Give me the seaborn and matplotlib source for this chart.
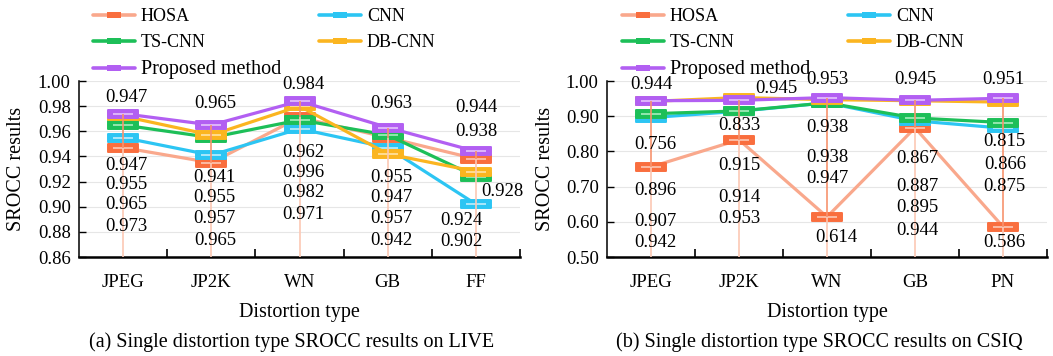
import numpy as np
import pandas as pd
import matplotlib
matplotlib.use("Agg")
import matplotlib.pyplot as plt
from matplotlib.path import Path
from matplotlib.lines import Line2D
import seaborn as sns

sns.set_theme(style="white")
plt.rcParams['font.family'] = ['Liberation Serif', 'DejaVu Serif']
for k in ['text.color', 'axes.labelcolor', 'xtick.color', 'ytick.color']:
    plt.rcParams[k] = 'black'

# --- dados ---
METHODS = ['HOSA', 'CNN', 'TS-CNN', 'DB-CNN', 'Proposed method']

live_types = ['JPEG', 'JP2K', 'WN', 'GB', 'FF']
live_hosa = [0.947, 0.935, 0.971, 0.955, 0.938]
live_cnn = [0.955, 0.941, 0.962, 0.947, 0.902]
live_tscnn = [0.965, 0.955, 0.969, 0.957, 0.924]
live_dbcnn = [0.972, 0.957, 0.980, 0.942, 0.928]
live_prop = [0.974, 0.965, 0.984, 0.963, 0.944]

csiq_types = ['JPEG', 'JP2K', 'WN', 'GB', 'PN']
csiq_hosa = [0.756, 0.833, 0.614, 0.867, 0.586]
csiq_cnn = [0.896, 0.914, 0.938, 0.887, 0.866]
csiq_tscnn = [0.907, 0.915, 0.938, 0.895, 0.882]
csiq_dbcnn = [0.942, 0.953, 0.947, 0.944, 0.940]
csiq_prop = [0.944, 0.945, 0.953, 0.945, 0.951]

# rotulos de dados (como no original)
live_top = ['0.947', '0.965', '0.984', '0.963', '0.944']
live_stack = [['0.947', '0.955', '0.965', '0.973'],
              ['0.941', '0.955', '0.957', '0.965'],
              ['0.962', '0.996', '0.982', '0.971'],
              ['0.955', '0.947', '0.957', '0.942'],
              ['0.938', '0.928', '0.924', '0.902']]
csiq_top = ['0.944', '0.945', '0.953', '0.945', '0.951']
csiq_stack = [['0.756', '0.896', '0.907', '0.942'],
              ['0.833', '0.915', '0.914', '0.953'],
              ['0.938', '0.938', '0.947', '0.614'],
              ['0.867', '0.887', '0.895', '0.944'],
              ['0.815', '0.866', '0.875', '0.586']]

# --- layout dos rotulos (posicao do texto) ---
LIVE_TOP_POS = [(0.04, 0.987), (0.04, 0.982), (0.04, 0.997), (0.04, 0.982), (0.0, 0.979)]
LIVE_STACK_POS = [[(0.04, 0.933), (0.04, 0.918), (0.04, 0.902), (0.04, 0.884)],
                  [(0.04, 0.923), (0.04, 0.907), (0.04, 0.891), (0.04, 0.873)],
                  [(0.04, 0.943), (0.04, 0.927), (0.04, 0.911), (0.04, 0.894)],
                  [(0.04, 0.923), (0.04, 0.907), (0.04, 0.891), (0.04, 0.873)],
                  [(0.0, 0.960), (0.30, 0.912), (-0.17, 0.889), (-0.17, 0.872)]]
CSIQ_TOP_POS = [(0.0, 0.989), (0.43, 0.980), (0.0, 1.003), (0.0, 1.003), (0.0, 1.003)]
CSIQ_STACK_POS = [[(0.05, 0.821), (0.05, 0.688), (0.05, 0.600), (0.05, 0.540)],
                  [(0.0, 0.875), (0.0, 0.759), (0.0, 0.670), (0.0, 0.608)],
                  [(0.0, 0.869), (0.0, 0.784), (0.0, 0.722), (0.11, 0.554)],
                  [(0.03, 0.781), (0.03, 0.699), (0.03, 0.642), (0.03, 0.574)],
                  [(0.02, 0.827), (0.02, 0.764), (0.02, 0.699), (0.02, 0.540)]]

LINE_COLORS = ['#f9a88c', '#2cc5f3', '#1dbf58', '#fbb520', '#b25ff2']
MARK_COLORS = ['#f96e3e', '#2cc5f3', '#1dbf58', '#fbb520', '#b25ff2']
STRIPE_COLORS = ['#fbb8a0', '#a6e6fa', '#8fe5ac', '#fedb8e', '#dcb3fa']

FS = 13.5
FS_LAB = 14.5
FS_LEG = 13
W, H = 1053, 356


def rect_path(h):
    verts = [(-1, -h), (1, -h), (1, h), (-1, h), (-1, -h)]
    codes = [Path.MOVETO, Path.LINETO, Path.LINETO, Path.LINETO, Path.CLOSEPOLY]
    return Path(verts, codes)


MARK = rect_path(0.27)
STRIPE = rect_path(0.09)
LEG_MARK = rect_path(0.4)


def painel(ax, tipos, series, ylim, yticks, top_txt, stack_txt, top_pos, stack_pos, legx, legenda):
    df = pd.DataFrame({
        'pos': np.tile(np.arange(len(tipos)), len(METHODS)),
        'method': np.repeat(METHODS, len(tipos)),
        'srocc': np.concatenate(series),
    })
    for i, m in enumerate(METHODS):
        sub = df[df['method'] == m]
        sns.lineplot(data=sub, x='pos', y='srocc', color=LINE_COLORS[i], linewidth=2.3,
                     ax=ax, zorder=3 + 2 * i, legend=False)
        ax.plot(sub['pos'], sub['srocc'], ls='none', marker=MARK, ms=22,
                mfc=MARK_COLORS[i], mec=MARK_COLORS[i], mew=1.4, zorder=4 + 2 * i)
        ax.plot(sub['pos'], sub['srocc'], ls='none', marker=STRIPE, ms=15,
                mfc=STRIPE_COLORS[i], mew=0, zorder=4.5 + 2 * i)

    pos = np.arange(len(tipos))
    hosa = np.array(series[0])
    prop = np.array(series[-1])
    ax.vlines(pos, hosa, prop, color='#f7936e', lw=1.2, zorder=20)
    ax.vlines(pos, ylim[0], hosa, color='#fcc8b4', lw=1.2, zorder=20)

    for j in range(len(tipos)):
        dx, y = top_pos[j]
        ax.text(j + dx, y, top_txt[j], ha='center', va='center', fontsize=FS,
                zorder=30, clip_on=False)
        for t, (dx, y) in zip(stack_txt[j], stack_pos[j]):
            ax.text(j + dx, y, t, ha='center', va='center', fontsize=FS,
                    zorder=30, clip_on=False)

    ax.set_xlim(-0.5, len(tipos) - 0.5)
    ax.set_ylim(*ylim)
    ax.set_yticks(yticks)
    ax.set_yticklabels([f'{v:.2f}' for v in yticks])
    ax.set_xticks(pos)
    ax.set_xticklabels(tipos)
    ax.set_xticks(np.arange(0.5, len(tipos), 1), minor=True)
    ax.tick_params(axis='x', which='major', length=0, pad=12, labelsize=FS)
    ax.tick_params(axis='x', which='minor', direction='in', length=6, width=1.2, bottom=True)
    ax.tick_params(axis='y', direction='in', length=5, width=1, left=True, pad=6, labelsize=FS)

    ax.yaxis.grid(True, color='#e6e6e6', lw=0.8)
    ax.set_axisbelow(True)
    for s in ['top', 'right']:
        ax.spines[s].set_visible(False)
    ax.spines['left'].set_color('black')
    ax.spines['left'].set_linewidth(1.1)
    ax.spines['bottom'].set_color('black')
    ax.spines['bottom'].set_linewidth(1.8)

    ax.set_xlabel('Distortion type', fontsize=FS_LAB)
    ax.xaxis.set_label_coords(0.5, -(313 - 257) / 176)
    ax.xaxis.label.set_va('center')
    ax.set_ylabel('SROCC results', fontsize=FS_LAB)
    ax.yaxis.set_label_coords(-62 / 441, 0.5)
    ax.yaxis.label.set_va('center')
    ax.text(0.483, -(342 - 257) / 176, legenda, transform=ax.transAxes,
            ha='center', va='center', fontsize=FS_LAB)

    handles = [Line2D([0], [0], color=LINE_COLORS[i], lw=2.6, marker=LEG_MARK, ms=10,
                      mfc=MARK_COLORS[i], mec=MARK_COLORS[i], mew=0) for i in range(5)]
    ordem = [0, 2, 4, 1, 3]
    leg = ax.legend([handles[k] for k in ordem], [METHODS[k] for k in ordem], ncol=2,
                    loc='upper left', bbox_to_anchor=(legx / W, 1 - 8 / H),
                    bbox_transform=ax.figure.transFigure, frameon=False,
                    handlelength=2.3, handletextpad=0.35, columnspacing=2.1,
                    labelspacing=0.5, borderpad=0, borderaxespad=0, fontsize=FS_LEG)
    for t in leg.get_texts():
        if t.get_text() == 'Proposed method':
            t.set_fontsize(14.5)


fig = plt.figure(figsize=(W / 100, H / 100), dpi=100)
ax_a = fig.add_axes([79 / W, (H - 257) / H, 441 / W, 176 / H])
ax_b = fig.add_axes([607 / W, (H - 257) / H, 440 / W, 176 / H])

painel(ax_a, live_types, [live_hosa, live_cnn, live_tscnn, live_dbcnn, live_prop],
       (0.86, 1.00), np.round(np.arange(0.86, 1.001, 0.02), 2),
       live_top, live_stack, LIVE_TOP_POS, LIVE_STACK_POS, 93,
       '(a) Single distortion type SROCC results on LIVE')
painel(ax_b, csiq_types, [csiq_hosa, csiq_cnn, csiq_tscnn, csiq_dbcnn, csiq_prop],
       (0.50, 1.00), np.round(np.arange(0.50, 1.001, 0.10), 2),
       csiq_top, csiq_stack, CSIQ_TOP_POS, CSIQ_STACK_POS, 622,
       '(b) Single distortion type SROCC results on CSIQ')

fig.savefig('out.png', dpi=100)
